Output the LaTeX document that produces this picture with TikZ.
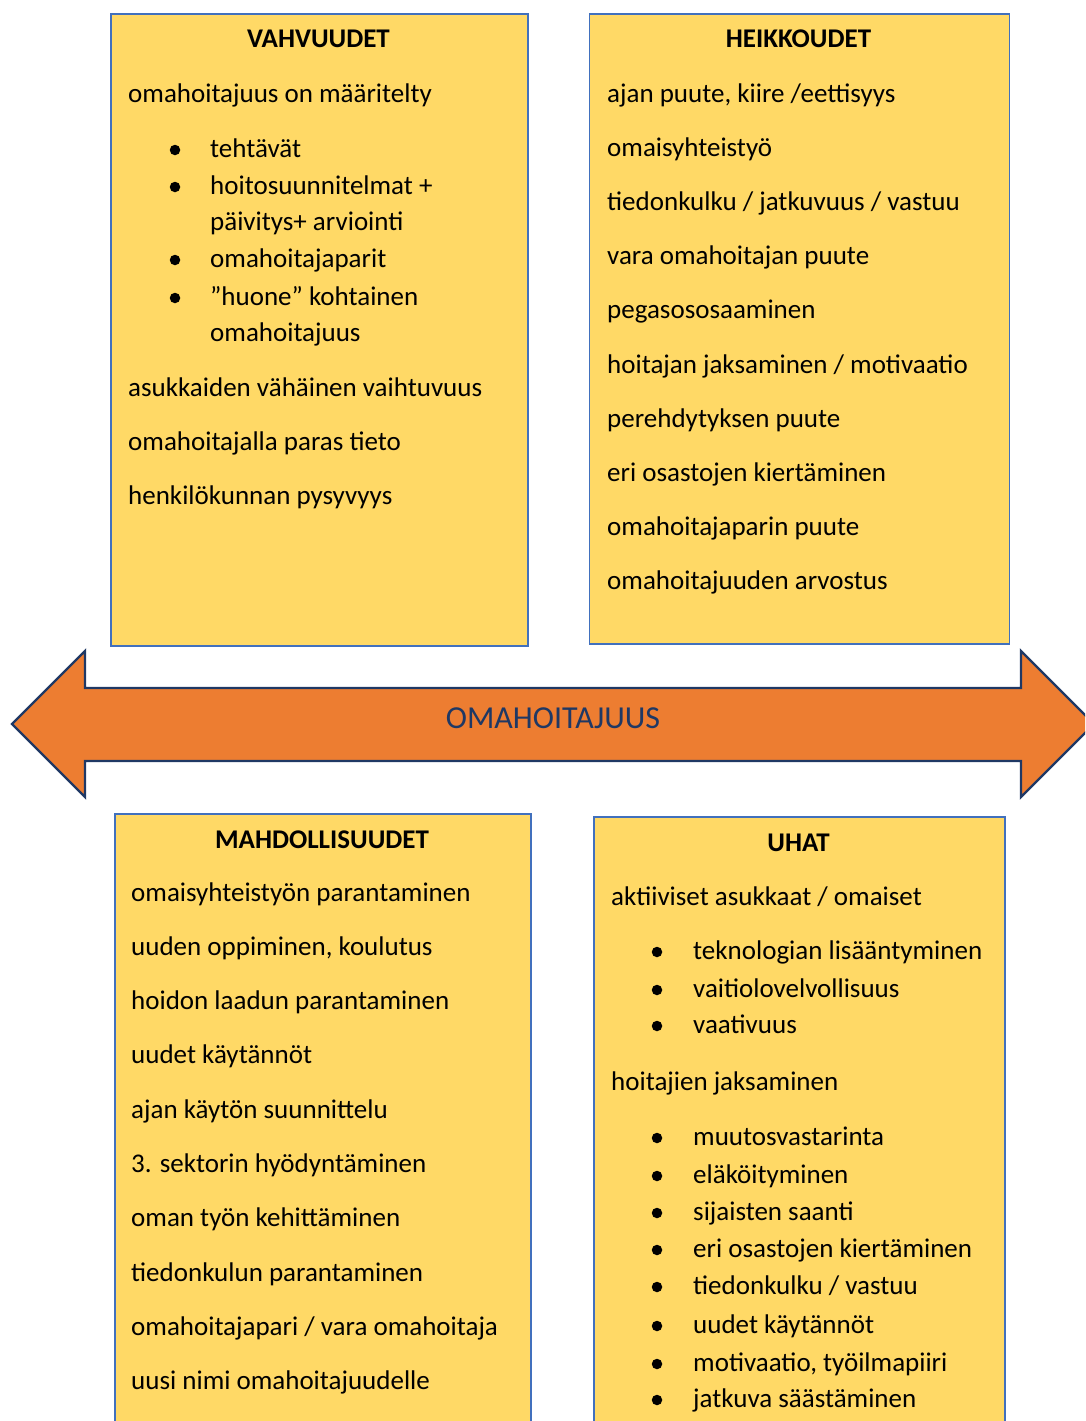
\documentclass[tikz,border=0pt]{standalone}
\usepackage{fontspec}
\setmainfont{Carlito}
\usepackage{xcolor}
\usetikzlibrary{positioning}
\definecolor{gold}{HTML}{FFD966}
\definecolor{frame}{HTML}{4170BD}
\definecolor{orange}{HTML}{ED7D31}
\definecolor{navy}{HTML}{1F3864}

\begin{document}
\begin{tikzpicture}[x=1pt,y=-1pt,
    every node/.style={font=\fontsize{27}{32}\selectfont,inner sep=0pt},
    box/.style={draw=frame,line width=1.6pt,fill=gold,anchor=north west},
    heading/.style={font=\fontsize{27}{32}\selectfont\bfseries,anchor=base},
    txt/.style={anchor=base west},
    dot/.style={circle,fill=black,minimum size=10.5pt}]
    \path[use as bounding box,clip] (0,0) rectangle (1085,1421);

    % the four quadrants
    \node[box,minimum width=417pt,minimum height=632pt] (vahv) at (110,13) {};
    \node[box,minimum width=420pt,minimum height=630pt] (heik) at (588.5,13) {};
    \node[box,minimum width=416pt,minimum height=630pt] (mahd) at (114,813) {};
    \node[box,minimum width=411pt,minimum height=630pt] (uhat) at (593,816) {};

    % double arrow across the middle
    \draw[navy,line width=2.4pt,fill=orange,line join=miter]
      (12,724) -- (85,651) -- (85,688) -- (1021,688) -- (1021,651) -- (1094,724)
      -- (1021,797) -- (1021,761) -- (85,761) -- (85,797) -- cycle;
    \node[anchor=base,text=navy,font=\fontsize{32}{38}\selectfont] (oma) at (553,728) {OMAHOITAJUUS};

    % VAHVUUDET
    \node[heading] (vt) at (318.5,48) {VAHVUUDET};
    \foreach \y/\t [count=\i] in {102/omahoitajuus on määritelty,396/asukkaiden vähäinen vaihtuvuus,
        450/omahoitajalla paras tieto,504/henkilökunnan pysyvyys}
      \node[txt] (v\i) at (128,\y) {\t};
    \foreach \y/\t [count=\i] in {157/tehtävät,194/hoitosuunnitelmat +,230/päivitys+ arviointi,
        267/omahoitajaparit,305/”huone” kohtainen,341/omahoitajuus}
      \node[txt] (vb\i) at (210,\y) {\t};
    \foreach \y [count=\i] in {157,194,267,305}
      \node[dot] (vd\i) at (175,\y-7) {};

    % HEIKKOUDET
    \node[heading] (ht) at (798.5,48) {HEIKKOUDET};
    \foreach \t [count=\i] in {{ajan puute, kiire /eettisyys},omaisyhteistyö,tiedonkulku / jatkuvuus / vastuu,
        vara omahoitajan puute,pegasososaaminen,hoitajan jaksaminen / motivaatio,perehdytyksen puute,
        eri osastojen kiertäminen,omahoitajaparin puute,omahoitajuuden arvostus}
      \node[txt] (h\i) at (607,{102+54.2*(\i-1)}) {\t};

    % MAHDOLLISUUDET
    \node[heading] (mt) at (322,848) {MAHDOLLISUUDET};
    \foreach \t [count=\i] in {omaisyhteistyön parantaminen,{uuden oppiminen, koulutus},hoidon laadun parantaminen,
        uudet käytännöt,ajan käytön suunnittelu,3. sektorin hyödyntäminen,oman työn kehittäminen,
        tiedonkulun parantaminen,omahoitajapari / vara omahoitaja,uusi nimi omahoitajuudelle}
      \node[txt] (m\i) at (131,{901+54.3*(\i-1)}) {\t};

    % UHAT
    \node[heading] (ut) at (798.5,851) {UHAT};
    \node[txt] (u1) at (611,905) {aktiiviset asukkaat / omaiset};
    \node[txt] (u2) at (611,1090) {hoitajien jaksaminen};
    \foreach \y/\t [count=\i] in {959/teknologian lisääntyminen,997/vaitiolovelvollisuus,1033/vaativuus,
        1145/muutosvastarinta,1183/eläköityminen,1220/sijaisten saanti,1257/eri osastojen kiertäminen,
        1294/{tiedonkulku / vastuu},1333/uudet käytännöt,1371/{motivaatio, työilmapiiri},1407/jatkuva säästäminen}
      {\node[txt] (ub\i) at (693,\y) {\t};
       \node[dot] (ud\i) at (657,\y-7) {};}
\end{tikzpicture}
\end{document}
